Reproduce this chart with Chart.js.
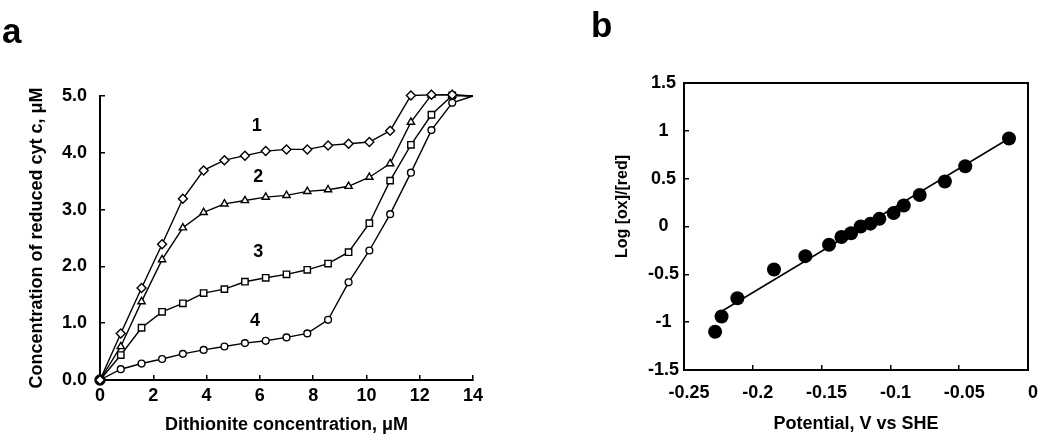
<!DOCTYPE html>
<html><head><meta charset="utf-8">
<script src="https://cdn.jsdelivr.net/npm/chart.js@4/dist/chart.umd.min.js"></script>
<style>
html,body{margin:0;padding:0;background:#fff;}
#wrap{position:relative;width:1050px;height:440px;overflow:hidden;background:#fff;}
.c{position:absolute;top:0;width:525px;height:440px;}
</style></head><body>
<div id="wrap">
<div class="c" style="left:0"><canvas id="ca" width="525" height="440"></canvas></div>
<div class="c" style="left:525px"><canvas id="cb" width="525" height="440"></canvas></div>
</div>
<script>
// ---- Panel a data ----
const dithionite = [0, 0.78, 1.56, 2.33, 3.11, 3.89, 4.67, 5.44, 6.22, 7.00, 7.78, 8.56, 9.33, 10.11, 10.89, 11.67, 12.44, 13.22, 14.0];
const curve1 = [0, 0.82, 1.62, 2.39, 3.19, 3.69, 3.87, 3.95, 4.03, 4.06, 4.06, 4.13, 4.16, 4.19, 4.39, 5.01, 5.02, 5.02, 5.0];
const curve2 = [0, 0.59, 1.38, 2.12, 2.68, 2.95, 3.10, 3.16, 3.22, 3.25, 3.32, 3.35, 3.41, 3.57, 3.81, 4.54, 5.02, 5.02, 5.0];
const curve3 = [0, 0.44, 0.92, 1.20, 1.35, 1.53, 1.60, 1.73, 1.80, 1.86, 1.94, 2.05, 2.25, 2.76, 3.51, 4.14, 4.67, 5.01, 5.0];
const curve4 = [0, 0.19, 0.29, 0.37, 0.46, 0.53, 0.59, 0.65, 0.69, 0.75, 0.82, 1.06, 1.72, 2.28, 2.92, 3.65, 4.40, 4.88, 5.0];
const curveNames = ['1', '2', '3', '4'];
const curveLabelX = [5.88, 5.94, 5.94, 5.82];
const curveLabelY = [4.47, 3.58, 2.26, 1.03];
const xTicksA = [0, 2, 4, 6, 8, 10, 12, 14];
const yTicksA = ['0.0', '1.0', '2.0', '3.0', '4.0', '5.0'];

// ---- Panel b data ----
const potential = [-0.2274, -0.2227, -0.2112, -0.1846, -0.1618, -0.1446, -0.1356, -0.1286, -0.1216, -0.1145, -0.1080, -0.0977, -0.0903, -0.0787, -0.0604, -0.0456, -0.0138];
const logRatio = [-1.10, -0.94, -0.75, -0.45, -0.31, -0.19, -0.11, -0.07, 0.00, 0.03, 0.08, 0.14, 0.22, 0.33, 0.47, 0.63, 0.92];
const fitX = [-0.2265, -0.0138];
const fitY = [-0.92, 0.92];

const FONT = "'Liberation Sans', Arial, sans-serif";
Chart.defaults.color = '#000';
Chart.defaults.font.family = FONT;
Chart.defaults.animation = false;

function pts(xs, ys) { return xs.map((x, i) => ({x: x, y: ys[i]})); }
function radii(n, r, first, last) { const a = []; for (let i = 0; i < n; i++) a.push(i === 0 ? first : (i === n - 1 ? last : r)); return a; }

const n = dithionite.length;
function lineDs(ys, style, r, first) {
  return {
    data: pts(dithionite, ys), showLine: true, borderColor: '#000', borderWidth: 1.4,
    pointStyle: style, pointRadius: radii(n, r, first, 0), pointBackgroundColor: '#fff',
    pointBorderColor: '#000', pointBorderWidth: 1.4, clip: false, tension: 0
  };
}

const labelsPluginA = {
  id: 'labelsA',
  afterDatasetsDraw(chart) {
    const {ctx, scales: {x, y}} = chart;
    ctx.save();
    ctx.fillStyle = '#000';
    ctx.font = 'bold 18px ' + FONT;
    ctx.textAlign = 'center'; ctx.textBaseline = 'middle';
    curveNames.forEach((t, i) => ctx.fillText(t, x.getPixelForValue(curveLabelX[i]), y.getPixelForValue(curveLabelY[i])));
    ctx.font = 'bold 35px ' + FONT;
    ctx.textAlign = 'left'; ctx.textBaseline = 'alphabetic';
    ctx.fillText('a', 2, 43);
    ctx.restore();
  }
};

new Chart(document.getElementById('ca'), {
  type: 'scatter',
  data: { datasets: [
    lineDs(curve1, 'rectRot', 4.5, 4.5),
    lineDs(curve2, 'triangle', 4.2, 4.2),
    lineDs(curve3, 'rect', 4.5, 4.5),
    lineDs(curve4, 'circle', 3.4, 5)
  ]},
  options: {
    responsive: false, maintainAspectRatio: false,
    layout: { padding: { top: 96, right: 52, bottom: 0, left: 0 } },
    plugins: { legend: { display: false }, tooltip: { enabled: false } },
    scales: {
      x: {
        type: 'linear', min: 0, max: 14,
        afterBuildTicks: s => { s.ticks = xTicksA.map(v => ({value: v})); },
        afterFit: s => { s.height = 60; },
        grid: { display: true, drawOnChartArea: false, drawTicks: true, tickLength: -5, color: '#000', lineWidth: 1.5 },
        border: { display: true, color: '#000', width: 2 },
        ticks: { padding: 10, font: { size: 18, weight: 'bold' }, maxRotation: 0, autoSkip: false, color: '#000' },
        title: { display: true, text: 'Dithionite concentration, \u03bcM', font: { size: 18, weight: 'bold' }, padding: { top: 0, bottom: 4 }, color: '#000' }
      },
      y: {
        type: 'linear', min: 0, max: 5,
        afterBuildTicks: s => { s.ticks = yTicksA.map(v => ({value: parseFloat(v)})); },
        afterFit: s => { s.width = 100; },
        grid: { display: true, drawOnChartArea: false, drawTicks: true, tickLength: -5, color: '#000', lineWidth: 1.5 },
        border: { display: true, color: '#000', width: 2 },
        ticks: { padding: 18, font: { size: 18, weight: 'bold' }, color: '#000', callback: (v, i) => yTicksA[i] },
        title: { display: true, text: 'Concentration of reduced cyt c, \u03bcM', font: { size: 18, weight: 'bold' }, padding: { top: 26, bottom: 4 }, color: '#000' }
      }
    }
  },
  plugins: [labelsPluginA]
});

const boxPluginB = {
  id: 'boxB',
  afterDraw(chart) {
    const {ctx, chartArea: a} = chart;
    ctx.save();
    ctx.strokeStyle = '#000'; ctx.lineWidth = 2;
    ctx.strokeRect(a.left, a.top, a.right - a.left, a.bottom - a.top);
    ctx.fillStyle = '#000';
    ctx.font = 'bold 35px ' + FONT;
    ctx.textAlign = 'left'; ctx.textBaseline = 'alphabetic';
    ctx.fillText('b', 66, 37);
    // y-axis title, placed a little above the axis centre as in the figure
    ctx.font = 'bold 16px ' + FONT;
    ctx.textAlign = 'center'; ctx.textBaseline = 'middle';
    ctx.translate(a.left - 61.5, (a.top + a.bottom) / 2 - 20);
    ctx.rotate(-Math.PI / 2);
    ctx.fillText('Log [ox]/[red]', 0, 0);
    ctx.restore();
  }
};

function fmt(v) { return (Math.round(v * 100) / 100).toString(); }

new Chart(document.getElementById('cb'), {
  type: 'scatter',
  data: { datasets: [
    { data: pts(fitX, fitY), showLine: true, borderColor: '#000', borderWidth: 1.5, pointRadius: 0, clip: false },
    { data: pts(potential, logRatio), showLine: false, pointRadius: 7, pointBackgroundColor: '#000', pointBorderColor: '#000', pointBorderWidth: 0, clip: false }
  ]},
  options: {
    responsive: false, maintainAspectRatio: false,
    layout: { padding: { top: 83, right: 12, bottom: 0, left: 0 } },
    plugins: { legend: { display: false }, tooltip: { enabled: false } },
    scales: {
      x: {
        type: 'linear', min: -0.25, max: 0,
        ticks: { stepSize: 0.05, padding: 17, labelOffset: 5, font: { size: 18, weight: 'bold' }, maxRotation: 0, autoSkip: false, color: '#000', callback: v => fmt(v) },
        afterFit: s => { s.height = 70; },
        grid: { display: true, drawOnChartArea: false, drawTicks: true, tickLength: -5, color: '#000', lineWidth: 1.5 },
        border: { display: false },
        title: { display: true, text: 'Potential, V vs SHE', font: { size: 18, weight: 'bold' }, padding: { top: 0, bottom: 5 }, color: '#000' }
      },
      y: {
        type: 'linear', min: -1.5, max: 1.5,
        ticks: { stepSize: 0.5, padding: 10, crossAlign: 'center', font: { size: 18, weight: 'bold' }, color: '#000', callback: v => fmt(v) },
        afterFit: s => { s.width = 159; },
        grid: { display: true, drawOnChartArea: false, drawTicks: true, tickLength: -5, color: '#000', lineWidth: 1.5 },
        border: { display: false },
        title: { display: false }
      }
    }
  },
  plugins: [boxPluginB]
});
</script>
</body></html>
